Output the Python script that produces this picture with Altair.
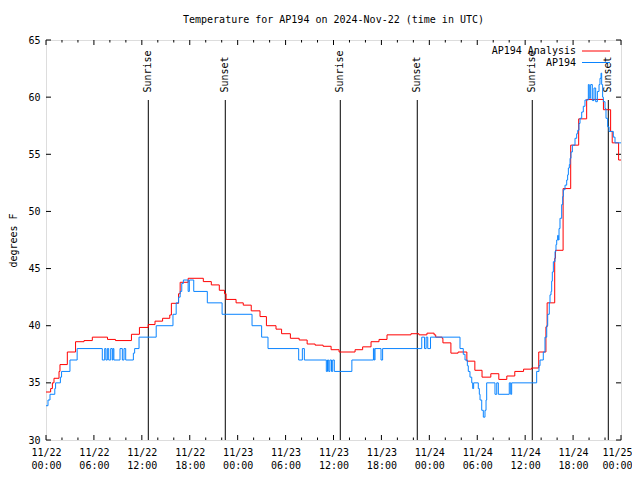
import altair as alt
import pandas as pd

# ---------------- data ----------------
red_hours = [0, 0.58, 0.8, 1.0, 1.63, 1.75, 2.67, 3.7, 4.76, 5.8, 7.7, 8.7, 10.7, 11.7,
             12.8, 13.65, 14.6, 15.5, 15.7, 16.6, 16.8, 17.8, 19.7, 20.7, 21.7, 22.35,
             22.55, 23.8, 24.7, 25.7, 26.8, 27.6, 28.8, 29.5, 30.6, 31.7, 32.7, 33.7,
             34.7, 35.7, 36.7, 38.7, 39.65, 40.7, 41.7, 42.7, 45.7, 46.7, 47.7, 48.6,
             48.8, 49.6, 49.7, 50.7, 51.6, 52.7, 53.7, 54.6, 55.7, 56.7, 57.7, 58.7,
             59.8, 60.8, 61.7, 62.6, 62.75, 63.7, 63.8, 64.75, 65.7, 66.7, 67.7, 69.8,
             70.7, 70.9, 71.7, 72]
red_temps = [34.2, 34.5, 35.0, 35.4, 36.0, 36.6, 37.7, 38.6, 38.7, 39.0, 38.8, 38.7, 39.25, 39.85,
             40.1, 40.4, 40.65, 40.94, 41.96, 42.8, 43.8, 44.15, 43.86, 43.57, 43.1, 42.8,
             42.3, 42.0, 41.8, 41.3, 40.8, 40.0, 39.7, 39.3, 38.9, 38.75, 38.4, 38.3,
             38.2, 37.9, 37.7, 37.9, 38.15, 38.6, 38.8, 39.2, 39.3, 39.2, 39.35, 39.2,
             39.0, 38.9, 38.5, 37.6, 37.7, 36.9, 36.1, 35.5, 35.8, 35.3, 35.6, 36.0,
             36.2, 36.3, 37.7, 39.9, 42.0, 45.9, 46.6, 52.0, 55.8, 58.1, 59.8, 58.9,
             57.0, 56.0, 54.5, 54.5]

obs_hours = [0, 0.25, 0.5, 1.1, 1.2, 1.8, 1.95, 3.0, 3.9, 7.05, 7.35, 7.5, 7.68, 7.85,
             8.1, 8.3, 8.4, 8.5, 9.27, 9.56, 9.77, 9.98, 10.94, 11.1, 11.65, 13.8, 15.9,
             16.3, 16.6, 16.8, 17.0, 17.2, 17.8, 17.95, 18.5, 20.2, 22.05, 25.8, 27.0,
             27.8, 31.64, 32.1, 32.35, 35.1, 35.25, 35.4, 35.55, 35.75, 35.9, 36.1, 38.3,
             41.0, 41.1, 41.2, 41.95, 42.15, 47.05, 47.4, 47.6, 47.8, 48.15, 51.84, 52.25,
             52.47, 52.76, 52.88, 53.09, 53.31, 53.43, 53.55, 54.13, 54.26, 54.35, 54.56,
             54.76, 54.97, 55.1, 55.18, 56.22, 56.44, 56.64, 58.01, 58.19, 58.31, 61.44,
             61.73, 61.86, 62.27, 62.48, 62.7, 62.82, 63.02, 63.11, 63.24, 63.32, 63.4,
             63.53, 63.74, 63.86, 63.95, 64.07, 64.15, 64.24, 64.36, 64.57, 64.7, 64.78,
             64.99, 65.2, 65.32, 65.41, 65.53, 65.62, 65.74, 65.91, 66.24, 66.45, 66.58,
             66.74, 66.87, 67.08, 67.28, 67.49, 67.91, 68.03, 68.2, 68.41, 68.62, 68.83,
             69.04, 69.25, 69.37, 69.5, 69.58, 69.7, 69.79, 70.0, 70.12, 70.33, 70.5,
             71.04, 71.25, 72]
obs_temps = [33.0, 33.5, 34.0, 34.5, 35.0, 35.5, 36.0, 37.0, 38.0, 37, 38, 37, 38, 37,
             38, 37, 38, 37, 38, 37, 38, 37, 37.6, 38, 39, 40, 41,
             42, 42.5, 43, 43.7, 44, 43, 44, 43, 42, 41, 40, 39,
             38, 37, 38, 37, 36, 37, 36, 37, 36, 37, 36, 37,
             38, 37, 38, 37, 38, 39, 38, 39, 38, 39, 38, 37.5,
             37, 36.5, 36, 35.5, 35.0, 34.5, 35.0, 34.5, 34.0, 33.5, 32.6,
             32.0, 32.6, 33.5, 35.0, 34.0, 35.0, 34.0, 35.0, 34.0, 35.0, 36.0,
             36.5, 37.0, 37.7, 39.0, 40.0, 41.0, 42.0, 42.7, 43.0, 43.9, 44.7,
             45.6, 46.5, 47.1, 47.5, 47.9, 47.5, 48.5, 49.4, 50.6, 51.3, 51.9,
             52.3, 52.75, 53.2, 53.8, 54.1, 54.65, 55.2, 55.8, 56.4, 56.8, 57.1,
             57.7, 58.15, 58.7, 59.2, 59.75, 61.1, 59.9, 61.1, 59.7, 60.8, 59.6,
             60.5, 61.1, 61.65, 62.1, 61.1, 60.0, 59.6, 59.0, 58.15, 57.4, 57.0,
             56.5, 56.0, 56.0]

sun_hours = [12.81, 22.45, 36.85, 46.49, 60.89, 70.41]
sun_labels = ["Sunrise", "Sunset", "Sunrise", "Sunset", "Sunrise", "Sunset"]

x_tick_hours = [0, 6, 12, 18, 24, 30, 36, 42, 48, 54, 60, 66, 72]
x_tick_dates = ["11/22", "11/22", "11/22", "11/22", "11/23", "11/23", "11/23",
                "11/23", "11/24", "11/24", "11/24", "11/24", "11/25"]
x_tick_times = ["00:00", "06:00", "12:00", "18:00", "00:00", "06:00", "12:00",
                "18:00", "00:00", "06:00", "12:00", "18:00", "00:00"]
x_minor_hours = [h for h in range(0, 73, 2) if h % 6 != 0]
y_ticks = [30, 35, 40, 45, 50, 55, 60, 65]

series_names = ["AP194 Analysis", "AP194"]
series_colors = ["#ff0000", "#0a84ff"]

# ---------------- layout ----------------
W, H = 575, 400
X0, X1 = 0, 72
Y0, Y1 = 30, 65
FONT = "DejaVu Sans Mono"
px_x = (X1 - X0) / W
px_y = (Y1 - Y0) / H
MAJ, MIN = 5, 2.5
SUN_TOP = 59.75
SUN_TEXT = 60.4

df_lines = pd.concat([
    pd.DataFrame({"series": series_names[0], "hour": red_hours, "temp": red_temps}),
    pd.DataFrame({"series": series_names[1], "hour": obs_hours, "temp": obs_temps}),
])
df_sun = pd.DataFrame({"hour": sun_hours, "label": sun_labels, "y0": Y0,
                       "y1": SUN_TOP, "ty": SUN_TEXT})

ticks = []
for h in x_tick_hours:
    ticks.append((h, h, Y0, Y0 + MAJ * px_y))
    ticks.append((h, h, Y1, Y1 - MAJ * px_y))
for h in x_minor_hours:
    ticks.append((h, h, Y0, Y0 + MIN * px_y))
    ticks.append((h, h, Y1, Y1 - MIN * px_y))
for v in y_ticks:
    ticks.append((X0, X0 + MAJ * px_x, v, v))
    ticks.append((X1, X1 - MAJ * px_x, v, v))
df_ticks = pd.DataFrame(ticks, columns=["x", "x2", "y", "y2"])

label_expr = " : ".join(
    f"datum.value == {h} ? ['{d}', '{t}']"
    for h, d, t in zip(x_tick_hours, x_tick_dates, x_tick_times)
) + " : ''"

xscale = alt.Scale(domain=[X0, X1], nice=False, zero=False)
yscale = alt.Scale(domain=[Y0, Y1], nice=False, zero=False)

x_axis = alt.Axis(values=x_tick_hours, labelExpr=label_expr, ticks=False, domain=False,
                  grid=False, labelFont=FONT, labelFontSize=10, labelColor="black",
                  labelPadding=7, labelLineHeight=13, labelFlush=False,
                  labelOverlap=False, title=None,
                  labelOffset={"condition": {"test": f"datum.value == {X1}", "value": -4},
                               "value": 0})
y_axis = alt.Axis(values=y_ticks, ticks=False, domain=False, grid=False,
                  labelFont=FONT, labelFontSize=10, labelColor="black", labelPadding=6,
                  title="degrees F", titleFont=FONT, titleFontSize=10,
                  titleFontWeight="normal", titleColor="black", titlePadding=9)

color = alt.Color(
    "series:N",
    scale=alt.Scale(domain=series_names, range=series_colors),
    legend=alt.Legend(title=None, orient="none", legendX=520, legendY=6,
                      symbolType="M11,0H39", symbolSize=4, symbolStrokeWidth=1,
                      labelAlign="right", labelOffset=0, labelFont=FONT,
                      labelFontSize=10, labelColor="black", rowPadding=1.5,
                      padding=0, symbolOffset=0),
)

base = alt.Chart(df_lines)
red = base.transform_filter(alt.datum.series == series_names[0]).mark_line(
    interpolate="step-after", strokeWidth=1, clip=True
).encode(x=alt.X("hour:Q", scale=xscale, axis=x_axis),
         y=alt.Y("temp:Q", scale=yscale, axis=y_axis),
         color=color)
blue = base.transform_filter(alt.datum.series == series_names[1]).mark_line(
    interpolate="step-after", strokeWidth=1, clip=True
).encode(x=alt.X("hour:Q", scale=xscale),
         y=alt.Y("temp:Q", scale=yscale),
         color=color)

sun_rules = alt.Chart(df_sun).mark_rule(color="black", strokeWidth=1).encode(
    x=alt.X("hour:Q", scale=xscale), y=alt.Y("y0:Q", scale=yscale), y2="y1:Q")
sun_text = alt.Chart(df_sun).mark_text(
    angle=270, align="left", baseline="middle", font=FONT, fontSize=10, color="black"
).encode(x=alt.X("hour:Q", scale=xscale), y=alt.Y("ty:Q", scale=yscale), text="label:N")

tick_rules = alt.Chart(df_ticks).mark_rule(color="black", strokeWidth=1).encode(
    x=alt.X("x:Q", scale=xscale), x2="x2:Q",
    y=alt.Y("y:Q", scale=yscale), y2="y2:Q")

chart = alt.layer(sun_rules, sun_text, tick_rules, red, blue).properties(
    width=W, height=H,
    title=alt.TitleParams("Temperature for AP194 on 2024-Nov-22 (time in UTC)",
                          font=FONT, fontSize=10, fontWeight="normal", color="black",
                          anchor="middle", offset=10),
    padding={"left": 38, "top": 32, "right": 11, "bottom": 32},
    autosize="none",
).configure_view(stroke="black", strokeWidth=1).configure(background="white")

chart.save("out.html", embed_options={"renderer": "svg", "actions": False})
